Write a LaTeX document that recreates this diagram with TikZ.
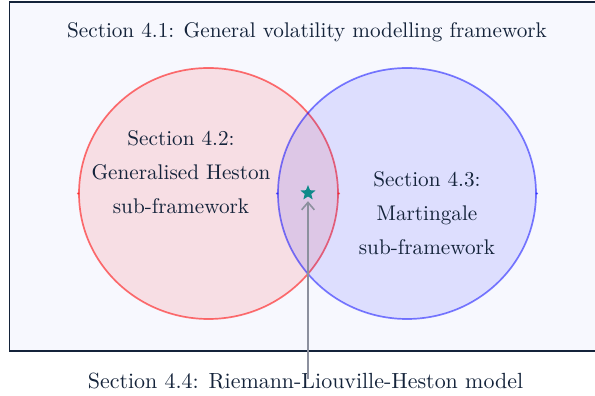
\documentclass[tikz,border=0pt]{standalone}
\usetikzlibrary{shapes.geometric,arrows.meta}
\definecolor{navy}{HTML}{14233A}
\definecolor{bgl}{HTML}{F7F8FE}
\definecolor{arrgray}{HTML}{8C909E}
\definecolor{starteal}{HTML}{0E8A8A}
\begin{document}
\begin{tikzpicture}[x=0.4717pt,y=-0.4717pt,
  txt/.style={text=navy,font=\normalsize,align=center,inner sep=0pt},
  setred/.style={ellipse,draw=red,draw opacity=0.55,fill=red,fill opacity=0.1,line width=0.8pt,minimum width=259*0.4717pt,minimum height=251*0.4717pt,inner sep=0pt},
  setblue/.style={ellipse,draw=blue,draw opacity=0.5,fill=blue,fill opacity=0.1,line width=0.8pt,minimum width=258*0.4717pt,minimum height=251*0.4717pt,inner sep=0pt},
  marker/.style={star,star points=5,star point ratio=2.3,fill=starteal,inner sep=0pt,minimum size=7.5pt},
  pointer/.style={draw=arrgray,line width=0.75pt,-{Straight Barb[length=3.5pt,width=6pt]}}
]
\useasboundingbox (0,0) rectangle (595,396);
\draw[navy,line width=0.9pt,fill=bgl] (9.5,2) rectangle (620,351);
\node[setred] (red) at (208.5,193.5) {};
\node[setblue] (blue) at (407,193.5) {};
\fill[red,opacity=0.6] (red.west) circle (1.2);
\fill[red,opacity=0.6] (red.east) circle (1.2);
\fill[blue,opacity=0.6] (blue.west) circle (1.2);
\fill[blue,opacity=0.6] (blue.east) circle (1.2);
\node[txt] (t41) at (307,32) {Section 4.1: General volatility modelling framework};
\node[txt] (t42) at (181,172) {Section 4.2:\\[4pt]Generalised Heston\\[4pt]sub-framework};
\node[txt] (t43) at (427,213) {Section 4.3:\\[4pt]Martingale\\[4pt]sub-framework};
\node[marker] (st) at (308,193) {};
\node[txt,scale=1.035] (t44) at (305.5,381) {Section 4.4: Riemann-Liouville-Heston model};
\draw[pointer] ([yshift=-3pt]t44.north -| st) -- ([yshift=-2pt]st.south);
\end{tikzpicture}
\end{document}
